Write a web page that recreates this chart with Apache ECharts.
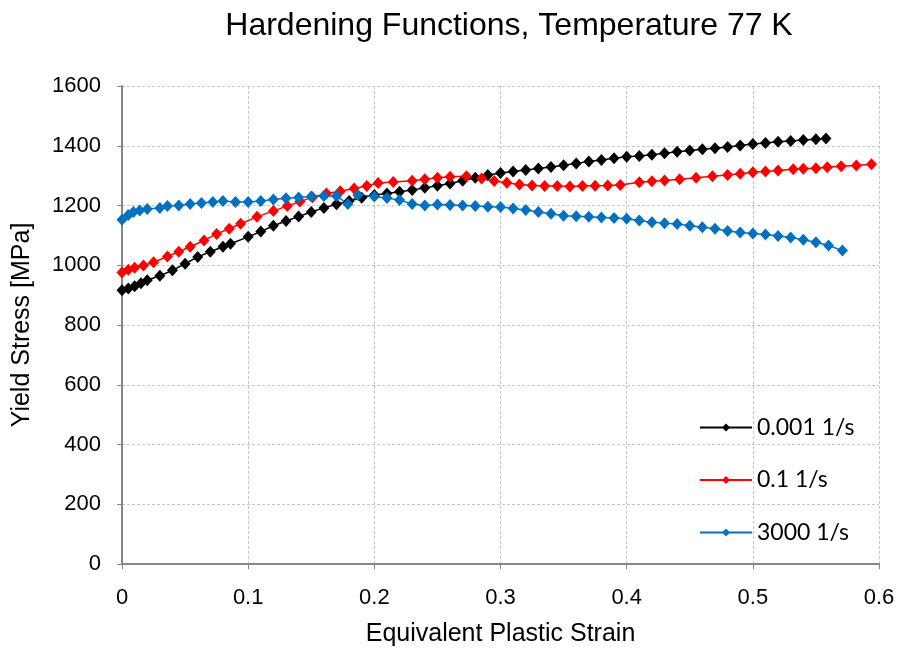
<!DOCTYPE html>
<html>
<head>
<meta charset="utf-8">
<script src="https://cdn.jsdelivr.net/npm/echarts@6/dist/echarts.min.js"></script>
<style>html,body{margin:0;padding:0;background:#fff;}#chart{width:899px;height:652px;}</style>
</head>
<body>
<div id="chart"></div>
<script>
const seriesNames = ['0.001 1/s', '0.1 1/s', '3000 1/s'];
const xTicks = [0, 0.1, 0.2, 0.3, 0.4, 0.5, 0.6];
const yTicks = [0, 200, 400, 600, 800, 1000, 1200, 1400, 1600];

const blackX = [0, 0.005, 0.01, 0.015, 0.02, 0.03, 0.04, 0.05, 0.06, 0.07, 0.08, 0.086, 0.1, 0.11, 0.12, 0.13, 0.14, 0.15, 0.16, 0.17, 0.18, 0.19, 0.2, 0.21, 0.22, 0.23, 0.24, 0.25, 0.26, 0.27, 0.28, 0.29, 0.3, 0.31, 0.32, 0.33, 0.34, 0.35, 0.36, 0.37, 0.38, 0.39, 0.4, 0.41, 0.42, 0.43, 0.44, 0.45, 0.46, 0.47, 0.48, 0.49, 0.5, 0.51, 0.52, 0.53, 0.54, 0.55, 0.558];
const blackY = [916, 922, 930, 940, 950, 965, 983, 1005, 1028, 1045, 1062, 1072, 1095, 1113, 1132, 1148, 1163, 1178, 1192, 1204, 1215, 1226, 1235, 1240, 1246, 1252, 1259, 1266, 1274, 1283, 1293, 1302, 1309, 1314, 1319, 1324, 1329, 1335, 1341, 1347, 1352, 1358, 1363, 1366, 1370, 1375, 1380, 1384, 1388, 1392, 1396, 1401, 1406, 1409, 1413, 1416, 1419, 1422, 1424];

const redX = [0, 0.005, 0.01, 0.017, 0.025, 0.036, 0.045, 0.054, 0.065, 0.075, 0.085, 0.094, 0.107, 0.12, 0.131, 0.141, 0.151, 0.162, 0.173, 0.184, 0.194, 0.203, 0.215, 0.23, 0.24, 0.25, 0.26, 0.273, 0.285, 0.295, 0.305, 0.315, 0.325, 0.335, 0.345, 0.355, 0.365, 0.375, 0.385, 0.395, 0.41, 0.42, 0.43, 0.442, 0.455, 0.468, 0.48, 0.49, 0.5, 0.51, 0.52, 0.532, 0.54, 0.55, 0.559, 0.57, 0.582, 0.594];
const redY = [976, 985, 992, 999, 1010, 1029, 1045, 1062, 1083, 1105, 1122, 1139, 1162, 1182, 1198, 1213, 1228, 1240, 1248, 1257, 1265, 1275, 1279, 1283, 1288, 1293, 1296, 1298, 1290, 1282, 1276, 1270, 1267, 1265, 1265, 1264, 1265, 1266, 1267, 1269, 1278, 1281, 1284, 1288, 1293, 1298, 1302, 1306, 1311, 1314, 1317, 1321, 1323, 1325, 1328, 1331, 1334, 1338];

const blueX = [0, 0.005, 0.009, 0.014, 0.02, 0.03, 0.036, 0.045, 0.054, 0.063, 0.072, 0.08, 0.09, 0.1, 0.11, 0.12, 0.13, 0.14, 0.15, 0.16, 0.17, 0.179, 0.187, 0.2, 0.21, 0.22, 0.23, 0.24, 0.25, 0.26, 0.27, 0.28, 0.29, 0.3, 0.31, 0.32, 0.33, 0.34, 0.35, 0.36, 0.37, 0.38, 0.39, 0.4, 0.41, 0.42, 0.43, 0.44, 0.45, 0.46, 0.47, 0.48, 0.49, 0.5, 0.51, 0.52, 0.53, 0.54, 0.55, 0.56, 0.571];
const blueY = [1152, 1168, 1178, 1183, 1188, 1192, 1198, 1200, 1205, 1208, 1212, 1215, 1212, 1212, 1215, 1220, 1224, 1227, 1230, 1232, 1232, 1205, 1235, 1230, 1225, 1218, 1205, 1200, 1203, 1202, 1200, 1198, 1196, 1195, 1190, 1185, 1178, 1172, 1166, 1164, 1162, 1160, 1158, 1156, 1150, 1144, 1141, 1138, 1132, 1127, 1122, 1115, 1110, 1106, 1103, 1098, 1093, 1085, 1077, 1066, 1049];

const colors = ['#000000', '#ff0000', '#0070c0'];
const xs = [blackX, redX, blueX];
const ys = [blackY, redY, blueY];

const chart = echarts.init(document.getElementById('chart'), null, {renderer: 'canvas'});
const font = 'Liberation Sans, Arial, sans-serif';

const series = seriesNames.map((name, i) => ({
  name: name,
  type: 'line',
  data: xs[i].map((x, j) => [x, ys[i][j]]),
  symbol: 'diamond',
  symbolSize: [11, 12],
  showSymbol: true,
  animation: false,
  lineStyle: {color: colors[i], width: 1.5},
  itemStyle: {color: colors[i]},
  emphasis: {disabled: true}
}));

chart.setOption({
  backgroundColor: '#ffffff',
  animation: false,
  title: {
    text: 'Hardening Functions, Temperature 77 K',
    left: 504,
    top: 5,
    textAlign: 'center',
    textStyle: {fontFamily: font, fontSize: 32, fontWeight: 'normal', color: '#000'}
  },
  grid: {left: 122, right: 20, top: 86, bottom: 84, containLabel: false},
  legend: {
    orient: 'vertical',
    left: 694,
    top: 411,
    itemWidth: 52,
    itemHeight: 10,
    itemGap: 29.5,
    data: seriesNames,
    icon: undefined,
    textStyle: {fontFamily: 'Lato, Carlito, sans-serif', fontSize: 23, color: '#000'},
    selectedMode: false
  },
  xAxis: {
    type: 'value',
    min: xTicks[0],
    max: xTicks[xTicks.length - 1],
    interval: 0.1,
    name: 'Equivalent Plastic Strain',
    nameLocation: 'middle',
    nameGap: 58,
    nameTextStyle: {fontFamily: font, fontSize: 25, color: '#000'},
    axisLine: {show: true, lineStyle: {color: '#868686', width: 2}},
    axisTick: {show: true, length: 5, lineStyle: {color: '#868686'}},
    axisLabel: {fontFamily: font, fontSize: 22, color: '#000', margin: 23,
      formatter: v => (v === 0 ? '0' : v.toFixed(1))},
    splitLine: {show: true, lineStyle: {color: '#c8c8c8', type: [3, 2], width: 1}}
  },
  yAxis: {
    type: 'value',
    min: yTicks[0],
    max: yTicks[yTicks.length - 1],
    interval: 200,
    name: 'Yield Stress [MPa]',
    nameLocation: 'middle',
    nameGap: 87,
    nameRotate: 90,
    nameTextStyle: {fontFamily: font, fontSize: 25, color: '#000'},
    axisLine: {show: true, lineStyle: {color: '#868686', width: 2}},
    axisTick: {show: true, length: 5, lineStyle: {color: '#868686'}},
    axisLabel: {fontFamily: font, fontSize: 22, color: '#000', margin: 21,
      formatter: v => String(Math.round(v))},
    splitLine: {show: true, lineStyle: {color: '#c8c8c8', type: [3, 2], width: 1}}
  },
  series: series
});
</script>
</body>
</html>
